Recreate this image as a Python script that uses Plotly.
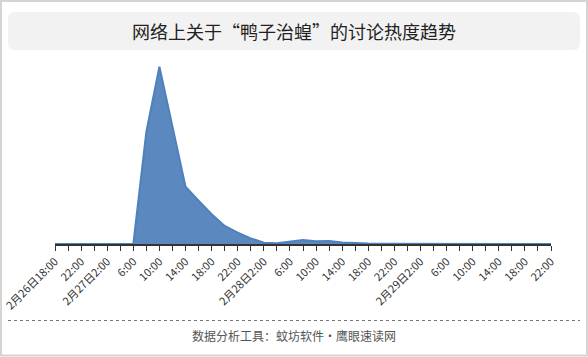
import plotly.graph_objects as go

# hours since 2月26日18:00, step 2h
hours = list(range(0, 78, 2))
values = [0, 0, 0, 0, 0, 0, 0,
          63.3, 100, 66.2, 32.3, 24.4, 16.8, 10.2, 6.4, 3.2,
          0.7, 0.45, 1.4, 2.3, 1.5, 1.7, 0.85, 0.45, 0.3, 0.2,
          0.15, 0.12, 0.1, 0.1, 0.08, 0.06, 0.05, 0.05, 0.04, 0.03, 0.02, 0.02, 0.02]
tick_hours = list(range(0, 78, 4))
tick_labels = ["2月26日18:00", "22:00", "2月27日2:00", "6:00", "10:00", "14:00", "18:00", "22:00",
               "2月28日2:00", "6:00", "10:00", "14:00", "18:00", "22:00",
               "2月29日2:00", "6:00", "10:00", "14:00", "18:00", "22:00"]
title_text = "网络上关于“鸭子治蝗”的讨论热度趋势"
footer_text = "数据分析工具：蚊坊软件·鹰眼速读网"

W, H = 588, 357
L, R, T, B = 55, 551, 60, 244

def px(x):
    return (x - L) / (R - L)

def py(y):
    return (B - y) / (B - T)

tickvals = list(range(0, 78, 2))
ticktext = []
for h in tickvals:
    ticktext.append(tick_labels[tick_hours.index(h)] if h in tick_hours else "")

fig = go.Figure()
fig.add_trace(go.Scatter(
    x=hours, y=values, mode="lines", fill="tozeroy",
    line=dict(color="#4f81bd", width=2),
    fillcolor="#5b88be", hoverinfo="skip", showlegend=False,
))

def rounded_path(x0, y0, x1, y1, r):
    def P(x, y):
        return f"{px(x):.5f},{py(y):.5f}"
    d = (f"M {P(x0 + r, y0)} L {P(x1 - r, y0)} Q {P(x1, y0)} {P(x1, y0 + r)} "
         f"L {P(x1, y1 - r)} Q {P(x1, y1)} {P(x1 - r, y1)} "
         f"L {P(x0 + r, y1)} Q {P(x0, y1)} {P(x0, y1 - r)} "
         f"L {P(x0, y0 + r)} Q {P(x0, y0)} {P(x0 + r, y0)} Z")
    return d

shapes = [
    dict(type="rect", xref="paper", yref="paper", x0=px(1), x1=px(587), y0=py(1), y1=py(355.5),
         line=dict(color="#d4d4d4", width=2), fillcolor="rgba(0,0,0,0)", layer="below"),
    dict(type="path", xref="paper", yref="paper", path=rounded_path(8, 12, 580, 50, 7),
         line=dict(width=0), fillcolor="#f2f2f2", layer="below"),
    dict(type="line", xref="paper", yref="paper", x0=px(8), x1=px(580), y0=py(320.5), y1=py(320.5),
         line=dict(color="#777", width=1, dash="dot")),
]

annotations = [
    dict(text=title_text, xref="paper", yref="paper", x=px(294), y=py(31), showarrow=False,
         font=dict(size=18, color="#222", family="Noto Sans CJK SC"), xanchor="center", yanchor="middle"),
    dict(text=footer_text, xref="paper", yref="paper", x=px(294), y=py(335), showarrow=False,
         font=dict(size=12, color="#555", family="Noto Sans CJK SC"), xanchor="center", yanchor="middle"),
]

fig.update_layout(
    width=W, height=H,
    margin=dict(l=L, r=W - R, t=T, b=H - B, autoexpand=False),
    paper_bgcolor="white", plot_bgcolor="white",
    shapes=shapes, annotations=annotations,
    font=dict(family="Noto Sans CJK SC", color="#333"),
    xaxis=dict(range=[0, 76], tickvals=tickvals, ticktext=ticktext, tickangle=-45, automargin=False,
               showline=True, linecolor="#333", linewidth=1.5, ticks="outside", ticklen=5,
               tickcolor="#333", tickwidth=1, showgrid=False, zeroline=False,
               tickfont=dict(size=11, color="#333", family="Noto Sans CJK SC")),
    yaxis=dict(range=[0, 100 * (B - T) / 177.3], visible=False, showgrid=False, zeroline=False,
               automargin=False),
)

fig.write_html("out.html", config={"displayModeBar": False},
               post_script="document.body.style.margin='0';document.body.style.overflow='hidden';")
